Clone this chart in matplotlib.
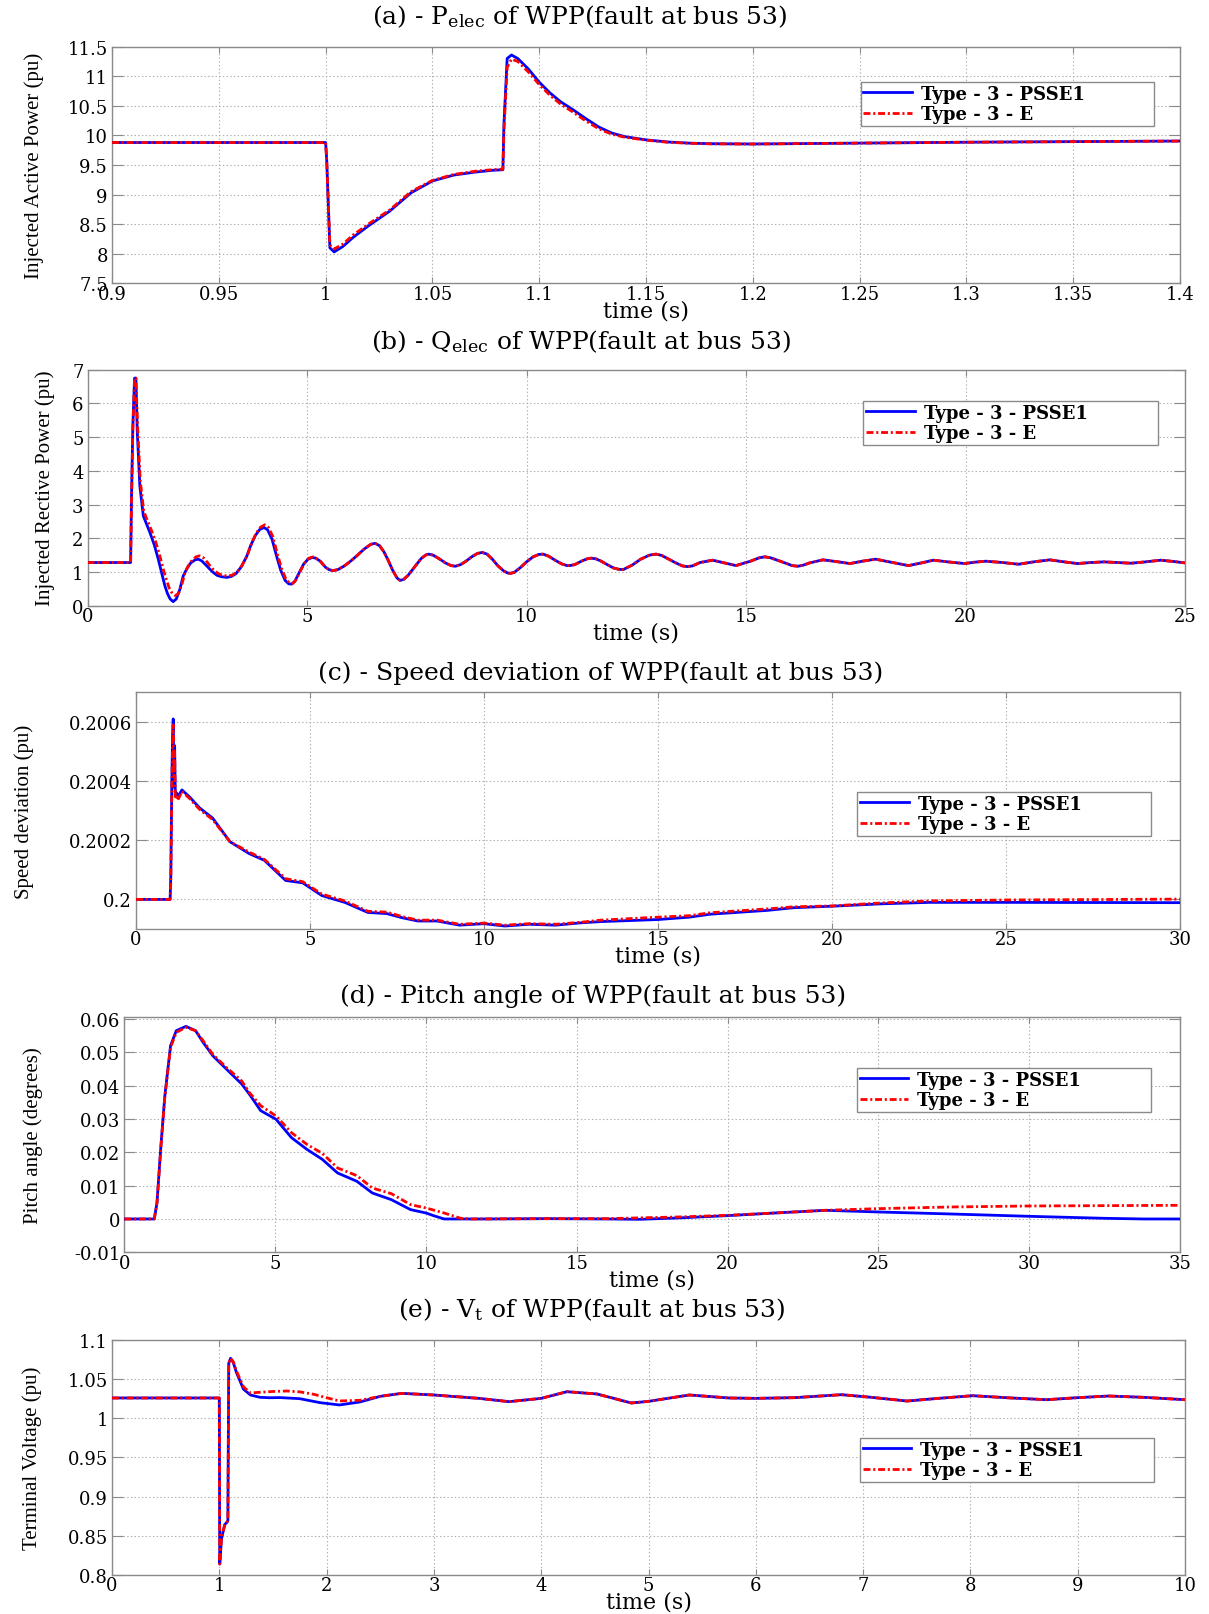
import matplotlib
matplotlib.use("Agg")
import matplotlib.pyplot as plt
from matplotlib.ticker import FormatStrFormatter

plt.rcParams["font.family"] = ["DejaVu Serif"]
plt.rcParams["mathtext.fontset"] = "dejavuserif"
plt.rcParams["lines.scale_dashes"] = False

LABELS = ["Type - 3 - PSSE1", "Type - 3 - E"]

# (a) injected active power, 0.9 - 1.4 s
time_a = [0.9, 1.0, 1.0005, 1.002, 1.004, 1.008, 1.013, 1.02, 1.03, 1.04, 1.05, 1.06,
          1.07, 1.078, 1.083, 1.0835, 1.085, 1.087, 1.09, 1.095, 1.1, 1.105, 1.11,
          1.116, 1.122, 1.128, 1.134, 1.14, 1.15, 1.16, 1.17, 1.18, 1.2, 1.25, 1.3,
          1.35, 1.4]
pelec_psse1 = [9.88, 9.88, 9.6, 8.1, 8.03, 8.12, 8.28, 8.47, 8.72, 9.03, 9.23, 9.33,
               9.38, 9.41, 9.42, 10.2, 11.3, 11.36, 11.3, 11.12, 10.9, 10.72, 10.57,
               10.43, 10.28, 10.14, 10.04, 9.98, 9.925, 9.89, 9.87, 9.86, 9.855, 9.87,
               9.885, 9.895, 9.905]
pelec_e = [9.88, 9.88, 9.6, 8.15, 8.08, 8.16, 8.32, 8.5, 8.74, 9.05, 9.24, 9.34,
           9.395, 9.42, 9.43, 10.1, 11.15, 11.29, 11.25, 11.07, 10.86, 10.68, 10.53,
           10.39, 10.24, 10.11, 10.02, 9.97, 9.92, 9.885, 9.868, 9.858, 9.855, 9.87,
           9.885, 9.895, 9.905]

# (b) injected reactive power, 0 - 25 s
time_b = [0, 0.98, 1.0, 1.03, 1.07, 1.1, 1.13, 1.19, 1.27, 1.35,
          1.42, 1.52, 1.61, 1.7, 1.76, 1.82, 1.88, 1.95, 2.02, 2.1,
          2.18, 2.27, 2.35, 2.45, 2.52, 2.6, 2.7, 2.78, 2.86, 2.95,
          3.05, 3.17, 3.28, 3.38, 3.5, 3.62, 3.72, 3.82, 3.92, 4.02,
          4.1, 4.2, 4.31, 4.4, 4.5, 4.58, 4.65, 4.72, 4.82, 4.92,
          5.02, 5.12, 5.2, 5.3, 5.42, 5.5, 5.59, 5.7, 5.85, 6.0,
          6.15, 6.3, 6.45, 6.55, 6.65, 6.75, 6.85, 6.95, 7.05, 7.12,
          7.2, 7.3, 7.45, 7.6, 7.7, 7.77, 7.87, 8.0, 8.15, 8.28,
          8.38, 8.5, 8.62, 8.75, 8.88, 8.99, 9.1, 9.22, 9.35, 9.48,
          9.57, 9.64, 9.72, 9.85, 10.0, 10.15, 10.28, 10.38, 10.5, 10.65,
          10.8, 10.92, 10.99, 11.1, 11.25, 11.38, 11.47, 11.58, 11.7, 11.85,
          11.98, 12.1, 12.2, 12.4, 12.6, 12.8, 12.95, 13.08, 13.4, 13.55,
          13.66, 13.78, 13.95, 14.24, 14.5, 14.77, 15.1, 15.3, 15.43, 15.56,
          15.8, 16.05, 16.18, 16.3, 16.45, 16.75, 17.05, 17.37, 17.65, 17.95,
          18.3, 18.7, 19.0, 19.27, 19.6, 19.98, 20.2, 20.46, 20.85, 21.21,
          21.55, 21.92, 22.25, 22.55, 22.85, 23.16, 23.45, 23.77, 24.1, 24.45,
          24.75, 25.0]
qelec_psse1 = [1.28, 1.28, 3.2, 5.3, 6.75, 6.75, 5.2, 3.55, 2.66, 2.4,
               2.17, 1.8, 1.38, 0.9, 0.59, 0.36, 0.2, 0.12, 0.2, 0.48,
               0.89, 1.12, 1.27, 1.36, 1.38, 1.33, 1.2, 1.09, 0.99, 0.9,
               0.86, 0.84, 0.87, 0.95, 1.15, 1.45, 1.8, 2.08, 2.26, 2.32,
               2.25, 1.98, 1.45, 1.05, 0.75, 0.65, 0.64, 0.72, 0.98, 1.23,
               1.38, 1.43, 1.41, 1.32, 1.14, 1.07, 1.04, 1.07, 1.18, 1.33,
               1.5, 1.68, 1.82, 1.85, 1.78, 1.6, 1.34, 1.05, 0.82, 0.75,
               0.78, 0.9, 1.15, 1.4, 1.5, 1.53, 1.5, 1.4, 1.27, 1.19,
               1.17, 1.22, 1.32, 1.45, 1.55, 1.58, 1.53, 1.38, 1.18, 1.03,
               0.97, 0.96, 0.99, 1.12, 1.3, 1.45, 1.52, 1.53, 1.47, 1.35,
               1.24, 1.19, 1.19, 1.22, 1.32, 1.39, 1.41, 1.39, 1.32, 1.21,
               1.12, 1.08, 1.07, 1.2, 1.38, 1.5, 1.53, 1.49, 1.27, 1.18,
               1.16, 1.18, 1.28, 1.35, 1.27, 1.19, 1.32, 1.42, 1.45, 1.42,
               1.31, 1.19, 1.17, 1.2, 1.27, 1.36, 1.31, 1.25, 1.32, 1.38,
               1.29, 1.19, 1.27, 1.35, 1.3, 1.25, 1.29, 1.32, 1.28, 1.23,
               1.3, 1.36, 1.3, 1.25, 1.28, 1.3, 1.28, 1.26, 1.3, 1.35,
               1.31, 1.27]
# E model differs only during the first swings, then follows PSSE1
time_b_e_early = [0, 0.98, 1.0, 1.03, 1.07, 1.1, 1.14, 1.2, 1.28, 1.37,
                  1.45, 1.55, 1.64, 1.73, 1.8, 1.86, 1.93, 2.0, 2.07, 2.14,
                  2.22, 2.3, 2.38, 2.47, 2.55, 2.63, 2.72, 2.8, 2.88, 2.97,
                  3.07, 3.2, 3.3, 3.4, 3.52, 3.64, 3.74, 3.84, 3.94, 4.04,
                  4.12, 4.22, 4.33, 4.42, 4.52, 4.6, 4.67, 4.74, 4.84, 4.94,
                  5.04, 5.14]
qelec_e_early = [1.28, 1.28, 3.0, 5.2, 6.75, 6.75, 5.3, 3.7, 2.8, 2.5,
                 2.25, 1.9, 1.5, 1.05, 0.75, 0.52, 0.36, 0.3, 0.36, 0.6,
                 0.98, 1.2, 1.35, 1.45, 1.48, 1.43, 1.3, 1.16, 1.05, 0.96,
                 0.9, 0.88, 0.91, 0.99, 1.2, 1.5, 1.86, 2.15, 2.33, 2.4,
                 2.32, 2.05, 1.5, 1.1, 0.78, 0.67, 0.66, 0.75, 1.01, 1.26,
                 1.41, 1.45]

# (c) speed deviation, 0 - 30 s
time_c = [0, 0.98, 1.0, 1.03, 1.05, 1.07, 1.09, 1.11, 1.13, 1.16, 1.22, 1.32, 1.55,
          1.82, 2.2, 2.7, 3.25, 3.69, 4.3, 4.79, 5.34, 6.0, 6.66, 7.21, 7.65, 8.1,
          8.65, 9.3, 10.0, 10.6, 11.3, 12.06, 12.8, 13.36, 15.0, 15.9, 16.5, 18.15,
          18.9, 20.0, 21.4, 22.8, 25.0, 30.0]
speed_psse1 = [0.2, 0.2, 0.20008, 0.2004, 0.20055, 0.20061, 0.20038, 0.20052, 0.20035,
               0.20036, 0.20035, 0.20037, 0.200345, 0.20031, 0.200275, 0.200195,
               0.200155, 0.200132, 0.200064, 0.200056, 0.200013, 0.19999, 0.199956,
               0.199952, 0.199938, 0.199927, 0.199927, 0.199913, 0.199918, 0.19991,
               0.199916, 0.199913, 0.199921, 0.199925, 0.199932, 0.19994, 0.19995,
               0.199963, 0.199972, 0.199977, 0.199985, 0.19999, 0.19999, 0.199989]
speed_e = [0.2, 0.2, 0.20006, 0.20038, 0.20052, 0.20059, 0.20042, 0.2005, 0.20034,
           0.20035, 0.20034, 0.200365, 0.20034, 0.200305, 0.20027, 0.200195,
           0.20016, 0.200135, 0.20007, 0.20006, 0.200018, 0.199995, 0.19996,
           0.199957, 0.199942, 0.19993, 0.19993, 0.199916, 0.19992, 0.199913,
           0.199918, 0.199916, 0.199923, 0.19993, 0.19994, 0.199945, 0.199955,
           0.199968, 0.199975, 0.199978, 0.199988, 0.199995, 0.199998, 0.200001]

# (d) pitch angle, 0 - 35 s
time_d = [0, 0.99, 1.08, 1.21, 1.34, 1.53, 1.72, 2.04, 2.36, 2.61, 2.93, 3.38, 3.89,
          4.14, 4.52, 5.03, 5.54, 6.05, 6.56, 7.07, 7.71, 8.22, 8.85, 9.49, 10.0,
          10.25, 10.6, 12, 14, 16, 17.07, 18.35, 20, 21.57, 23.24, 25, 27.4, 30,
          32.5, 33.8, 35]
pitch_psse1 = [0, 0, 0.0048, 0.0219, 0.0369, 0.052, 0.0565, 0.0578, 0.0565, 0.053,
               0.049, 0.045, 0.0405, 0.0375, 0.0325, 0.0299, 0.0244, 0.0209, 0.0179,
               0.0138, 0.0113, 0.0078, 0.0058, 0.0028, 0.0018, 0.001, 0, 0, 0.0001,
               0, -0.0001, 0.0003, 0.001, 0.0018, 0.0026, 0.0021, 0.0015, 0.0008,
               0.0002, 0, 0]
time_d_e = [0, 0.99, 1.08, 1.21, 1.34, 1.53, 1.72, 2.04, 2.36, 2.61, 2.93, 3.38, 3.89,
            4.14, 4.52, 5.03, 5.54, 6.05, 6.56, 7.07, 7.71, 8.22, 8.85, 9.49, 10.0,
            10.6, 11.15, 11.5, 14, 16, 18.35, 20, 21.57, 23.24, 25, 27.4, 30, 35]
pitch_e = [0, 0, 0.0048, 0.0215, 0.0365, 0.0515, 0.056, 0.0575, 0.0565, 0.0535,
           0.0494, 0.0455, 0.0414, 0.038, 0.034, 0.0309, 0.0259, 0.0224, 0.0197,
           0.0153, 0.013, 0.0093, 0.0076, 0.0043, 0.0033, 0.0018, 0.0002, 0, 0.0001,
           0.0001, 0.0006, 0.0011, 0.0018, 0.0026, 0.0031, 0.0036, 0.0039, 0.0041]

# (e) terminal voltage, 0 - 10 s
time_e = [0, 1.0, 1.004, 1.02, 1.05, 1.075, 1.08, 1.088, 1.105, 1.13, 1.16, 1.225,
          1.29, 1.38, 1.47, 1.565, 1.75, 1.94, 2.12, 2.31, 2.5, 2.7, 3.0, 3.42, 3.7,
          4.0, 4.24, 4.52, 4.84, 5.0, 5.38, 5.75, 6.0, 6.36, 6.8, 7.08, 7.41, 7.7,
          8.02, 8.38, 8.71, 9.0, 9.29, 9.62, 10.0]
vt_psse1 = [1.0257, 1.0257, 0.814, 0.846, 0.864, 0.868, 0.87, 1.07, 1.0763, 1.071,
            1.058, 1.037, 1.0295, 1.0265, 1.026, 1.0262, 1.0248, 1.0197, 1.0168,
            1.0206, 1.0278, 1.0316, 1.0295, 1.0252, 1.021, 1.0252, 1.0337, 1.0308,
            1.0193, 1.0214, 1.0295, 1.0257, 1.0252, 1.0261, 1.0299, 1.0265, 1.0218,
            1.0252, 1.0286, 1.0257, 1.0235, 1.0261, 1.0282, 1.0265, 1.0235]
time_e_early = [0, 1.0, 1.004, 1.02, 1.05, 1.075, 1.08, 1.088, 1.105, 1.13, 1.16,
                1.225, 1.29, 1.38, 1.5, 1.63, 1.75, 1.88, 2.0, 2.12, 2.31]
vt_e_early = [1.0257, 1.0257, 0.814, 0.846, 0.864, 0.868, 0.87, 1.07, 1.0763, 1.072,
              1.06, 1.04, 1.032, 1.033, 1.034, 1.0346, 1.0335, 1.0304, 1.026, 1.0219,
              1.0227]

GRAY = "#8a8a8a"
W, H = 1209, 1615

fig = plt.figure(figsize=(W / 100, H / 100), dpi=100)


def panel(left, right, top, bottom):
    return fig.add_axes([left / W, 1 - bottom / H, (right - left) / W, (bottom - top) / H])


def draw(ax, t1, y1, t2, y2, xlim, ylim, xticks, yticks, title, tx, tpad,
         ylabel, ylx, leg):
    ax.plot(t1, y1, color="#0000ff", lw=2.0, label=LABELS[0], zorder=3,
            solid_joinstyle="round")
    ax.plot(t2, y2, color="#ff0000", lw=2.0, ls=(0, (5, 2, 1.5, 2)),
            label=LABELS[1], zorder=4)
    ax.set_xlim(*xlim)
    ax.set_ylim(*ylim)
    ax.set_xticks(xticks)
    ax.set_yticks(yticks)
    ax.xaxis.set_major_formatter(FormatStrFormatter("%g"))
    ax.yaxis.set_major_formatter(FormatStrFormatter("%g"))
    ax.grid(True, ls=":", color="#b0b0b0", lw=0.8)
    ax.tick_params(direction="in", top=True, right=True, color=GRAY,
                   labelsize=13, labelcolor="black")
    ax.tick_params(axis="x", length=4, pad=1)
    ax.tick_params(axis="y", length=8, pad=3)
    for sp in ax.spines.values():
        sp.set_color(GRAY)
        sp.set_linewidth(1.0)
    ax.set_title(title, fontsize=18, x=tx, pad=tpad)
    ax.set_xlabel("time (s)", fontsize=16, labelpad=-2.5)
    ax.set_ylabel(ylabel, family="Liberation Serif", fontsize=15)
    ax.yaxis.set_label_coords(ylx, 0.5)
    x0, ytop, w = leg
    lg = ax.legend(loc="upper left", bbox_to_anchor=(x0, ytop - 0.3, w, 0.3),
                   mode="expand",
                   prop=dict(family="DejaVu Serif", weight="bold", size=13),
                   frameon=True, fancybox=False, edgecolor=GRAY, framealpha=1,
                   borderpad=0.15, labelspacing=0.12, handlelength=2.7,
                   handletextpad=0.5, borderaxespad=0)
    lg.get_frame().set_linewidth(1.0)


ax = panel(112, 1180, 47.7, 284.3)
draw(ax, time_a, pelec_psse1, time_a, pelec_e, (0.9, 1.4), (7.5, 11.5),
     [0.9, 0.95, 1.0, 1.05, 1.1, 1.15, 1.2, 1.25, 1.3, 1.35, 1.4],
     [7.5, 8, 8.5, 9, 9.5, 10, 10.5, 11, 11.5],
     r"(a) - P$_{\mathrm{elec}}$ of WPP(fault at bus 53)", 0.438, 17,
     "Injected Active Power (pu)", -0.064, (0.701, 0.851, 0.275))

tail_b = [(t, q) for t, q in zip(time_b, qelec_psse1) if t > 5.15]
ax = panel(87.6, 1185, 370.7, 606.7)
draw(ax, time_b, qelec_psse1,
     time_b_e_early + [t for t, _ in tail_b], qelec_e_early + [q for _, q in tail_b],
     (0, 25), (0, 7), [0, 5, 10, 15, 20, 25], [0, 1, 2, 3, 4, 5, 6, 7],
     r"(b) - Q$_{\mathrm{elec}}$ of WPP(fault at bus 53)", 0.450, 15.5,
     "Injected Rective Power (pu)", -0.030, (0.707, 0.867, 0.268))

ax = panel(136, 1180, 693.3, 930)
draw(ax, time_c, speed_psse1, time_c, speed_e, (0, 30), (0.1999, 0.2007),
     [0, 5, 10, 15, 20, 25, 30], [0.2, 0.2002, 0.2004, 0.2006],
     "(c) - Speed deviation of WPP(fault at bus 53)", 0.445, 9.5,
     "Speed deviation (pu)", -0.098, (0.691, 0.579, 0.281))

ax = panel(124.4, 1180, 1017.7, 1253.3)
draw(ax, time_d, pitch_psse1, time_d_e, pitch_e, (0, 35), (-0.01, 0.0607),
     [0, 5, 10, 15, 20, 25, 30, 35], [-0.01, 0, 0.01, 0.02, 0.03, 0.04, 0.05, 0.06],
     "(d) - Pitch angle of WPP(fault at bus 53)", 0.444, 10.5,
     "Pitch angle (degrees)", -0.077, (0.694, 0.782, 0.2785))

tail_e = [(t, v) for t, v in zip(time_e, vt_psse1) if t > 2.4]
ax = panel(112, 1185, 1340.7, 1576)
draw(ax, time_e, vt_psse1,
     time_e_early + [t for t, _ in tail_e], vt_e_early + [v for _, v in tail_e],
     (0, 10), (0.8, 1.1), list(range(11)), [0.8, 0.85, 0.9, 0.95, 1.0, 1.05, 1.1],
     r"(e) - V$_{\mathrm{t}}$ of WPP(fault at bus 53)", 0.447, 17,
     "Terminal Voltage (pu)", -0.065, (0.697, 0.582, 0.274))

fig.savefig("out.png", dpi=100, facecolor="white")
